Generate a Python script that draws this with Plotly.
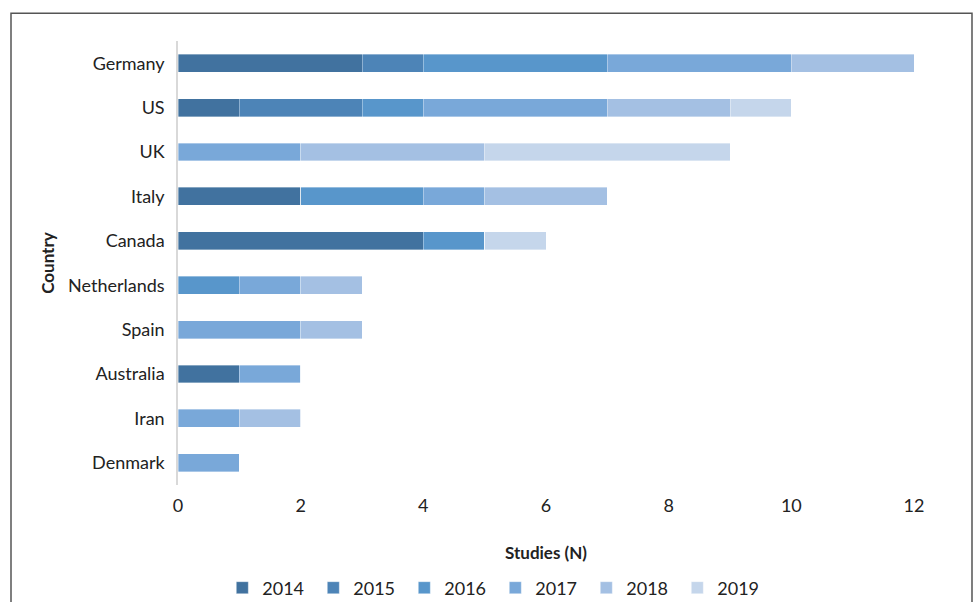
import plotly.graph_objects as go

countries = ["Germany", "US", "UK", "Italy", "Canada", "Netherlands", "Spain", "Australia", "Iran", "Denmark"]
years = ["2014", "2015", "2016", "2017", "2018", "2019"]
v2014 = [3, 1, 0, 2, 4, 0, 0, 1, 0, 0]
v2015 = [1, 2, 0, 0, 0, 0, 0, 0, 0, 0]
v2016 = [3, 1, 0, 2, 1, 1, 0, 0, 0, 0]
v2017 = [3, 3, 2, 1, 0, 1, 2, 1, 1, 1]
v2018 = [2, 2, 3, 2, 0, 1, 1, 0, 1, 0]
v2019 = [0, 1, 4, 0, 1, 0, 0, 0, 0, 0]
series = [v2014, v2015, v2016, v2017, v2018, v2019]
colors = ["#41729F", "#4D84B7", "#5896CB", "#79A8D9", "#A4C0E3", "#C5D6EB"]

FONT = "Lato"
fig = go.Figure()
for yr, vals, c in zip(years, series, colors):
    fig.add_trace(go.Bar(
        y=countries, x=vals, name=yr, orientation="h",
        marker=dict(color=c, line=dict(color="rgba(255,255,255,0.6)", width=0.6)),
    ))

fig.update_layout(
    barmode="stack",
    bargap=0.595,
    width=975, height=602,
    margin=dict(l=178, r=61, t=41, b=117, autoexpand=False),
    paper_bgcolor="white", plot_bgcolor="white",
    font=dict(family=FONT, size=18, color="#222"),
    showlegend=True,
    legend=dict(orientation="h", xref="container", yref="container",
                x=0.508, xanchor="center", y=(602 - 588) / 602, yanchor="middle",
                entrywidth=46, entrywidthmode="pixels", font=dict(size=18),
                traceorder="normal", itemwidth=30),
    xaxis=dict(range=[0, 12], dtick=2, showgrid=False, zeroline=False, showline=False,
               ticks="", ticklabelstandoff=8,
               title=dict(text="<b>Studies (N)</b>", standoff=32, font=dict(size=17))),
    yaxis=dict(autorange="reversed", showgrid=False, showline=True, linecolor="#D9D9D9",
               linewidth=1.5, ticks="", ticklabelstandoff=8,
               title=dict(text="<b>Country</b>", standoff=9, font=dict(size=17))),
    shapes=[dict(type="path", xref="paper", yref="paper",
                 path="M -0.2269,-0.3 L -0.2269,1.0626 L 1.0788,1.0626 L 1.0788,-0.3",
                 line=dict(color="#555", width=1.5))],
)
fig.write_html("out.html")
